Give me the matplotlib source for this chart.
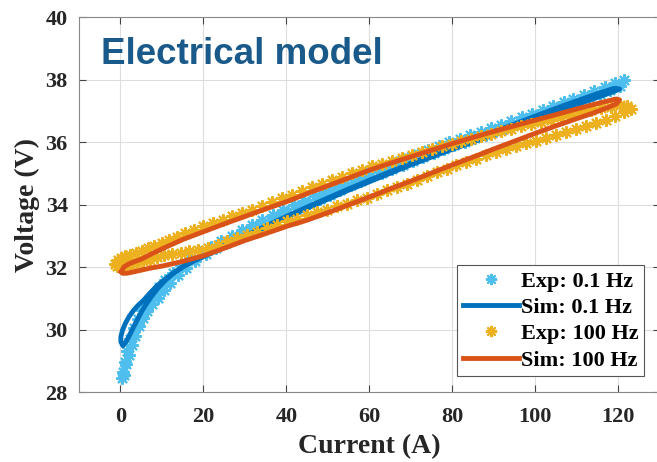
import matplotlib
matplotlib.use("Agg")
import matplotlib.pyplot as plt

# Exp 0.1 Hz - current rising (lower branch)
exp01_up_i = [0.9, 1.4, 2.0, 2.7, 3.5, 4.4, 5.4, 6.5, 7.7, 9.0, 10.4, 12.0, 13.8, 15.8, 18.0,
              20.5, 23.0, 25.5, 28.0, 30.5, 33.0, 35.5, 38.0, 40.5, 43.0, 45.5, 48.0, 50.5,
              53.0, 55.5, 58.0, 60.5, 63.0, 65.5, 68.0, 70.5, 73.0, 75.5, 78.0, 80.5, 83.0,
              85.5, 88.0, 90.5, 93.0, 95.5, 98.0, 100.5, 103.0, 105.5, 108.0, 110.5, 113.0,
              115.5, 118.0, 120.5]
exp01_up_v = [28.55, 28.9, 29.2, 29.5, 29.8, 30.1, 30.38, 30.6, 30.82, 31.02, 31.25, 31.5,
              31.75, 31.98, 32.2, 32.42, 32.6, 32.78, 32.95, 33.12, 33.28, 33.44, 33.6, 33.75,
              33.9, 34.04, 34.18, 34.32, 34.47, 34.61, 34.75, 34.9, 35.02, 35.14, 35.27, 35.4,
              35.52, 35.65, 35.77, 35.9, 36.0, 36.12, 36.23, 36.35, 36.46, 36.58, 36.7, 36.81,
              36.94, 37.06, 37.18, 37.3, 37.43, 37.55, 37.68, 37.8]
# Exp 0.1 Hz - current falling (upper branch)
exp01_dn_i = [121.5, 119.2, 116.8, 114.2, 111.8, 109.2, 106.8, 104.2, 101.8, 99.2, 96.8, 94.2,
              91.8, 89.2, 86.8, 84.2, 81.8, 79.2, 76.8, 74.2, 71.8, 69.2, 66.8, 64.2, 61.8,
              59.2, 56.8, 54.2, 51.8, 49.2, 46.8, 44.2, 41.8, 39.2, 36.8, 34.2, 31.8, 29.2,
              26.8, 24.2, 21.8, 19.2, 16.8, 14.6, 12.6, 10.8, 9.2, 7.8, 6.5, 5.3, 4.2, 3.2,
              2.3, 1.6, 1.0, 0.6, 0.4]
exp01_dn_v = [37.98, 37.88, 37.76, 37.63, 37.51, 37.39, 37.27, 37.14, 37.03, 36.9, 36.79,
              36.67, 36.56, 36.44, 36.33, 36.22, 36.11, 35.99, 35.87, 35.74, 35.62, 35.49,
              35.37, 35.24, 35.11, 34.98, 34.85, 34.7, 34.56, 34.41, 34.27, 34.12, 33.98,
              33.83, 33.67, 33.5, 33.33, 33.17, 33.0, 32.82, 32.65, 32.47, 32.28, 32.05, 31.82,
              31.6, 31.35, 31.12, 30.88, 30.62, 30.35, 30.05, 29.7, 29.3, 28.95, 28.65, 28.45]

# Sim 0.1 Hz
sim01_i = [0.6, 1.3, 2.0, 2.6, 3.2, 4.2, 5.2, 6.4, 7.6, 9, 11, 13, 15.5, 18, 20, 25, 30, 35,
           40, 45, 50, 55, 60, 65, 70, 75, 80, 85, 90, 95, 100, 105, 110, 115, 119, 120.3,
           119, 115, 110, 105, 100, 95, 90, 85, 80, 75, 70, 65, 60, 55, 50, 45, 40, 35, 30,
           25, 20, 17.7, 15, 12.9, 10.5, 8.8, 7, 5.6, 4.3, 3.2, 2.1, 1.2, 0.5, 0.1, 0.1, 0.6]
sim01_v = [29.5, 29.6, 29.77, 29.93, 30.09, 30.35, 30.6, 30.85, 31.08, 31.32, 31.6, 31.83,
           32.05, 32.22, 32.33, 32.65, 32.97, 33.27, 33.58, 33.88, 34.17, 34.46, 34.73, 35.0,
           35.27, 35.52, 35.77, 36.0, 36.24, 36.48, 36.72, 36.96, 37.2, 37.43, 37.62, 37.7,
           37.72, 37.55, 37.32, 37.08, 36.83, 36.58, 36.33, 36.08, 35.83, 35.58, 35.32,
           35.05, 34.78, 34.5, 34.21, 33.92, 33.62, 33.31, 33.0, 32.69, 32.37, 32.2, 32.0,
           31.82, 31.58, 31.4, 31.15, 30.94, 30.78, 30.62, 30.42, 30.2, 29.98, 29.77, 29.6,
           29.5]

# Exp 100 Hz - upper branch
exp100_up_i = [-1.2, -0.6, 0.2, 1.2, 2.4, 3.7, 5.1, 6.6, 8.2, 9.9, 11.7, 13.6, 15.6, 17.7,
               19.9, 22.2, 24.6, 27.0, 29.4, 31.8, 34.2, 36.6, 39.0, 41.4, 43.8, 46.2, 48.6,
               51.0, 53.4, 55.8, 58.2, 60.6, 63.0, 65.4, 67.8, 70.2, 72.6, 75.0, 77.4, 79.8,
               82.2, 84.6, 87.0, 89.4, 91.8, 94.2, 96.6, 99.0, 101.4, 103.8, 106.2, 108.6,
               111.0, 113.4, 115.8, 118.2, 120.4, 122.2]
exp100_up_v = [32.1, 32.22, 32.3, 32.35, 32.4, 32.45, 32.5, 32.6, 32.68, 32.77, 32.87, 32.97,
               33.08, 33.2, 33.32, 33.42, 33.52, 33.62, 33.73, 33.84, 33.95, 34.07, 34.2,
               34.32, 34.43, 34.55, 34.66, 34.78, 34.89, 35.0, 35.11, 35.22, 35.31, 35.4,
               35.5, 35.59, 35.68, 35.77, 35.86, 35.95, 36.03, 36.1, 36.18, 36.26, 36.34,
               36.42, 36.5, 36.57, 36.64, 36.72, 36.8, 36.88, 36.95, 37.02, 37.08, 37.13,
               37.18, 37.17]
# Exp 100 Hz - lower branch
exp100_dn_i = [123.0, 121.3, 119.3, 117.0, 114.6, 112.2, 109.8, 107.4, 105.0, 102.6, 100.2,
               97.8, 95.4, 93.0, 90.6, 88.2, 85.8, 83.4, 81.0, 78.6, 76.2, 73.8, 71.4, 69.0,
               66.6, 64.2, 61.8, 59.4, 57.0, 54.6, 52.2, 49.8, 47.4, 45.0, 42.6, 40.2, 37.8,
               35.4, 33.0, 30.6, 28.2, 25.8, 23.4, 21.0, 18.8, 16.6, 14.5, 12.5, 10.6, 8.8,
               7.1, 5.5, 4.0, 2.6, 1.3, 0.2, -0.8]
exp100_dn_v = [37.05, 36.96, 36.84, 36.72, 36.6, 36.5, 36.41, 36.32, 36.23, 36.14, 36.05,
               35.96, 35.87, 35.77, 35.68, 35.58, 35.47, 35.37, 35.26, 35.15, 35.03, 34.91,
               34.79, 34.67, 34.56, 34.45, 34.34, 34.22, 34.13, 34.03, 33.94, 33.84, 33.75,
               33.65, 33.55, 33.46, 33.36, 33.24, 33.13, 33.02, 32.92, 32.82, 32.71, 32.6,
               32.55, 32.5, 32.45, 32.41, 32.37, 32.31, 32.24, 32.18, 32.12, 32.06, 32.02,
               32.0, 32.03]

# Sim 100 Hz
sim100_i = [0.2, 0.8, 2, 3.5, 5, 7.5, 10, 15, 20, 25, 30, 35, 40, 45, 50, 55, 60, 65, 70, 75,
            80, 85, 90, 95, 100, 105, 110, 114, 117, 119.5, 120.3,
            119.5, 117, 114, 110, 105, 100, 95, 90, 85, 80, 75, 70, 65, 60, 55, 50, 45, 40,
            35, 30, 25, 20, 15, 10, 7, 5, 3, 1.5, 0.5, 0.2]
sim100_v = [31.85, 32.0, 32.1, 32.18, 32.25, 32.42, 32.58, 32.88, 33.13, 33.38, 33.62, 33.86,
            34.09, 34.35, 34.6, 34.85, 35.1, 35.32, 35.53, 35.74, 35.95, 36.15, 36.34, 36.52,
            36.7, 36.88, 37.06, 37.2, 37.3, 37.38, 37.35,
            37.22, 37.08, 36.93, 36.75, 36.52, 36.28, 36.03, 35.78, 35.52, 35.27, 35.01,
            34.75, 34.5, 34.24, 33.99, 33.74, 33.5, 33.3, 33.07, 32.85, 32.6, 32.36, 32.18,
            32.03, 31.96, 31.9, 31.84, 31.8, 31.8, 31.85]

x_ticks = [0, 20, 40, 60, 80, 100, 120]
y_ticks = [28, 30, 32, 34, 36, 38, 40]
labels = ["Exp: 0.1 Hz", "Sim: 0.1 Hz", "Exp: 100 Hz", "Sim: 100 Hz"]

c_exp01 = "#4DBEEE"
c_sim01 = "#0072BD"
c_exp100 = "#EDB120"
c_sim100 = "#D95319"

serif = ["Liberation Serif", "DejaVu Serif"]
star = (8, 2, 0)

fig = plt.figure(figsize=(6.57, 4.62), dpi=100)
ax = fig.add_axes([0.1202, 0.1515, 0.884, 0.8115])

ax.plot(exp01_up_i + exp01_dn_i, exp01_up_v + exp01_dn_v, ls="none", marker=star,
        ms=9, mew=1.5, color=c_exp01, label=labels[0])
ax.plot(sim01_i, sim01_v, color=c_sim01, lw=3.5, label=labels[1])
ax.plot(exp100_up_i + exp100_dn_i, exp100_up_v + exp100_dn_v, ls="none", marker=star,
        ms=9, mew=1.5, color=c_exp100, label=labels[2])
ax.plot(sim100_i, sim100_v, color=c_sim100, lw=3.5, label=labels[3])

ax.set_xlim(-10, 130)
ax.set_ylim(28, 40)
ax.set_xticks(x_ticks)
ax.set_yticks(y_ticks)
ax.grid(True, color="#DDDDDD", lw=0.8)
ax.set_axisbelow(True)
ax.tick_params(direction="in", top=True, right=True, length=5, width=0.8,
               color="#444444", labelsize=16, pad=8)
ax.tick_params(axis="x", pad=11)
for lab in ax.get_xticklabels() + ax.get_yticklabels():
    lab.set_family(serif)
    lab.set_fontweight("bold")
    lab.set_color("#262626")
for sp in ax.spines.values():
    sp.set_color("#888888")
    sp.set_linewidth(0.8)

ax.set_xlabel("Current (A)", family=serif, fontweight="bold", fontsize=20,
              color="#262626")
ax.xaxis.set_label_coords(0.5, -0.112)
ax.set_ylabel("Voltage (V)", family=serif, fontweight="bold", fontsize=20,
              color="#262626", labelpad=4)

ax.text(-4.8, 38.5, "Electrical model", family=["Liberation Sans", "DejaVu Sans"],
        fontweight="bold", fontsize=26.5, color="#1A5A8A", va="baseline", ha="left")

leg = ax.legend(loc="lower right", bbox_to_anchor=(0.980, 0.186),
                bbox_transform=fig.transFigure, borderaxespad=0,
                prop={"family": serif, "weight": "bold", "size": 16},
                fancybox=False, framealpha=1, edgecolor="#555555",
                handlelength=2.5, handletextpad=0.1, labelspacing=0.26,
                borderpad=0.25, markerscale=0.9)
leg.get_frame().set_linewidth(0.8)

fig.savefig("out.png", dpi=100)
